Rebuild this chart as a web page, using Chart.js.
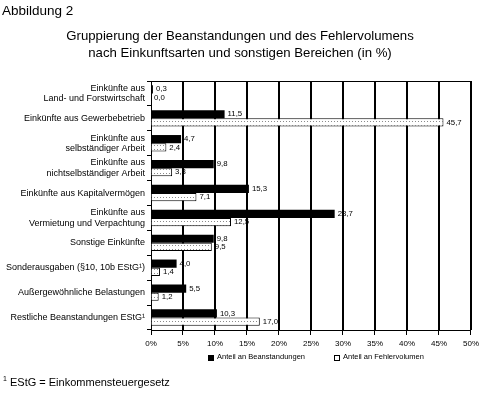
<!DOCTYPE html>
<html><head><meta charset="utf-8">
<script src="https://cdn.jsdelivr.net/npm/chart.js@4"></script>
<style>
html,body{margin:0;padding:0;background:#fff;}
#wrap{position:relative;width:483px;height:396px;overflow:hidden;font-family:"Liberation Sans",Arial,sans-serif;color:#000;}
#c{position:absolute;left:0;top:0;}
.t{position:absolute;white-space:nowrap;}
#abb{left:2px;top:3px;font-size:13.5px;}
#title{left:0;width:480px;top:27px;text-align:center;font-size:13.2px;line-height:17px;}
#foot{left:3px;top:376px;font-size:11px;}
#foot sup{font-size:7px;vertical-align:top;position:relative;top:-1px;}
.leg{position:absolute;top:352px;font-size:7.5px;white-space:nowrap;}
.sw{position:absolute;width:6px;height:6px;box-sizing:border-box;}
</style></head>
<body><div id="wrap">
<canvas id="c" width="483" height="396"></canvas>
<div class="t" id="abb">Abbildung 2</div>
<div class="t" id="title">Gruppierung der Beanstandungen und des Fehlervolumens<br>nach Einkunftsarten und sonstigen Bereichen (in %)</div>
<div class="sw" id="sw1" style="left:208px;top:355px;background:#000;"></div>
<div class="leg" style="left:217px;">Anteil an Beanstandungen</div>
<div class="sw" id="sw2" style="left:334px;top:355px;border:1px solid #000;background:#fff;"></div>
<div class="leg" style="left:343px;">Anteil an Fehlervolumen</div>
<div class="t" id="foot"><sup>1</sup> EStG = Einkommensteuergesetz</div>
</div>
<script>
const categories = [
  ["Einkünfte aus", "Land- und Forstwirtschaft"],
  "Einkünfte aus Gewerbebetrieb",
  ["Einkünfte aus", "selbständiger Arbeit"],
  ["Einkünfte aus", "nichtselbständiger Arbeit"],
  "Einkünfte aus Kapitalvermögen",
  ["Einkünfte aus", "Vermietung und Verpachtung"],
  "Sonstige Einkünfte",
  "Sonderausgaben (§10, 10b EStG¹)",
  "Außergewöhnliche Belastungen",
  "Restliche Beanstandungen EStG¹"
];
const beanstandungen = [0.3, 11.5, 4.7, 9.8, 15.3, 28.7, 9.8, 4.0, 5.5, 10.3];
const fehlervolumen = [0.0, 45.7, 2.4, 3.3, 7.1, 12.5, 9.5, 1.4, 1.2, 17.0];
const seriesNames = ["Anteil an Beanstandungen", "Anteil an Fehlervolumen"];
const xMin = 0, xMax = 50, xStep = 5;

// dotted pattern
const pc = document.createElement('canvas');
pc.width = 3; pc.height = 4;
const pctx = pc.getContext('2d');
pctx.fillStyle = '#fff'; pctx.fillRect(0, 0, 3, 4);
pctx.fillStyle = '#8a8a8a'; pctx.fillRect(1, 1, 1, 1);
const ctx = document.getElementById('c').getContext('2d');
const pattern = ctx.createPattern(pc, 'repeat');

const fmt = v => v.toFixed(1).replace('.', ',');

const valueLabels = {
  id: 'valueLabels',
  afterDatasetsDraw(chart) {
    const c = chart.ctx;
    c.save();
    c.font = '7.8px "Liberation Sans", Arial, sans-serif';
    c.fillStyle = '#000';
    c.textBaseline = 'middle';
    c.textAlign = 'left';
    chart.data.datasets.forEach((ds, i) => {
      const meta = chart.getDatasetMeta(i);
      meta.data.forEach((el, j) => {
        c.fillText(fmt(ds.data[j]), el.x + 3, el.y);
      });
    });
    c.restore();
  }
};
const frame = {
  id: 'frame',
  beforeDatasetsDraw(chart) {
    const a = chart.chartArea, c = chart.ctx, xs = chart.scales.x;
    c.save();
    c.strokeStyle = '#000'; c.lineWidth = 1;
    c.beginPath();
    for (let v = xMin; v <= xMax; v += xStep) {
      const px = Math.round(xs.getPixelForValue(v)) + 0.5;
      c.moveTo(px, a.top); c.lineTo(px, a.bottom);
    }
    c.moveTo(a.left, Math.round(a.top) + 0.5);
    c.lineTo(a.right, Math.round(a.top) + 0.5);
    c.stroke();
    c.restore();
  }
};

new Chart(ctx, {
  type: 'bar',
  data: {
    labels: categories,
    datasets: [
      { label: seriesNames[0], data: beanstandungen, backgroundColor: '#000', borderColor: '#000', borderWidth: 0,
        categoryPercentage: 0.66, barPercentage: 1.0 },
      { label: seriesNames[1], data: fehlervolumen, backgroundColor: pattern, borderColor: '#000', borderWidth: 1,
        categoryPercentage: 0.66, barPercentage: 1.0 }
    ]
  },
  options: {
    indexAxis: 'y',
    responsive: false,
    animation: false,
    devicePixelRatio: 1,
    layout: { padding: { top: 81, right: 10, bottom: 44, left: 0 } },
    plugins: { legend: { display: false }, tooltip: { enabled: false } },
    scales: {
      x: {
        min: xMin, max: xMax,
        afterFit: s => { s.height = 22; },
        grid: { display: true, drawOnChartArea: true, color: '#000', lineWidth: 1, tickLength: 5, drawTicks: true },
        border: { display: true, color: '#000' },
        ticks: { stepSize: xStep, color: '#000', padding: 4, maxRotation: 0,
          font: { size: 8, family: '"Liberation Sans", Arial, sans-serif' },
          callback: v => v + '%' }
      },
      y: {
        afterFit: s => { s.width = 151; },
        grid: { drawOnChartArea: false, color: '#000', tickLength: 4, offset: true },
        border: { color: '#000' },
        ticks: { color: '#000', padding: 2, autoSkip: false,
          font: { size: 9, lineHeight: 1.15, family: '"Liberation Sans", Arial, sans-serif' } }
      }
    }
  },
  plugins: [valueLabels, frame]
});
</script>
</body></html>
